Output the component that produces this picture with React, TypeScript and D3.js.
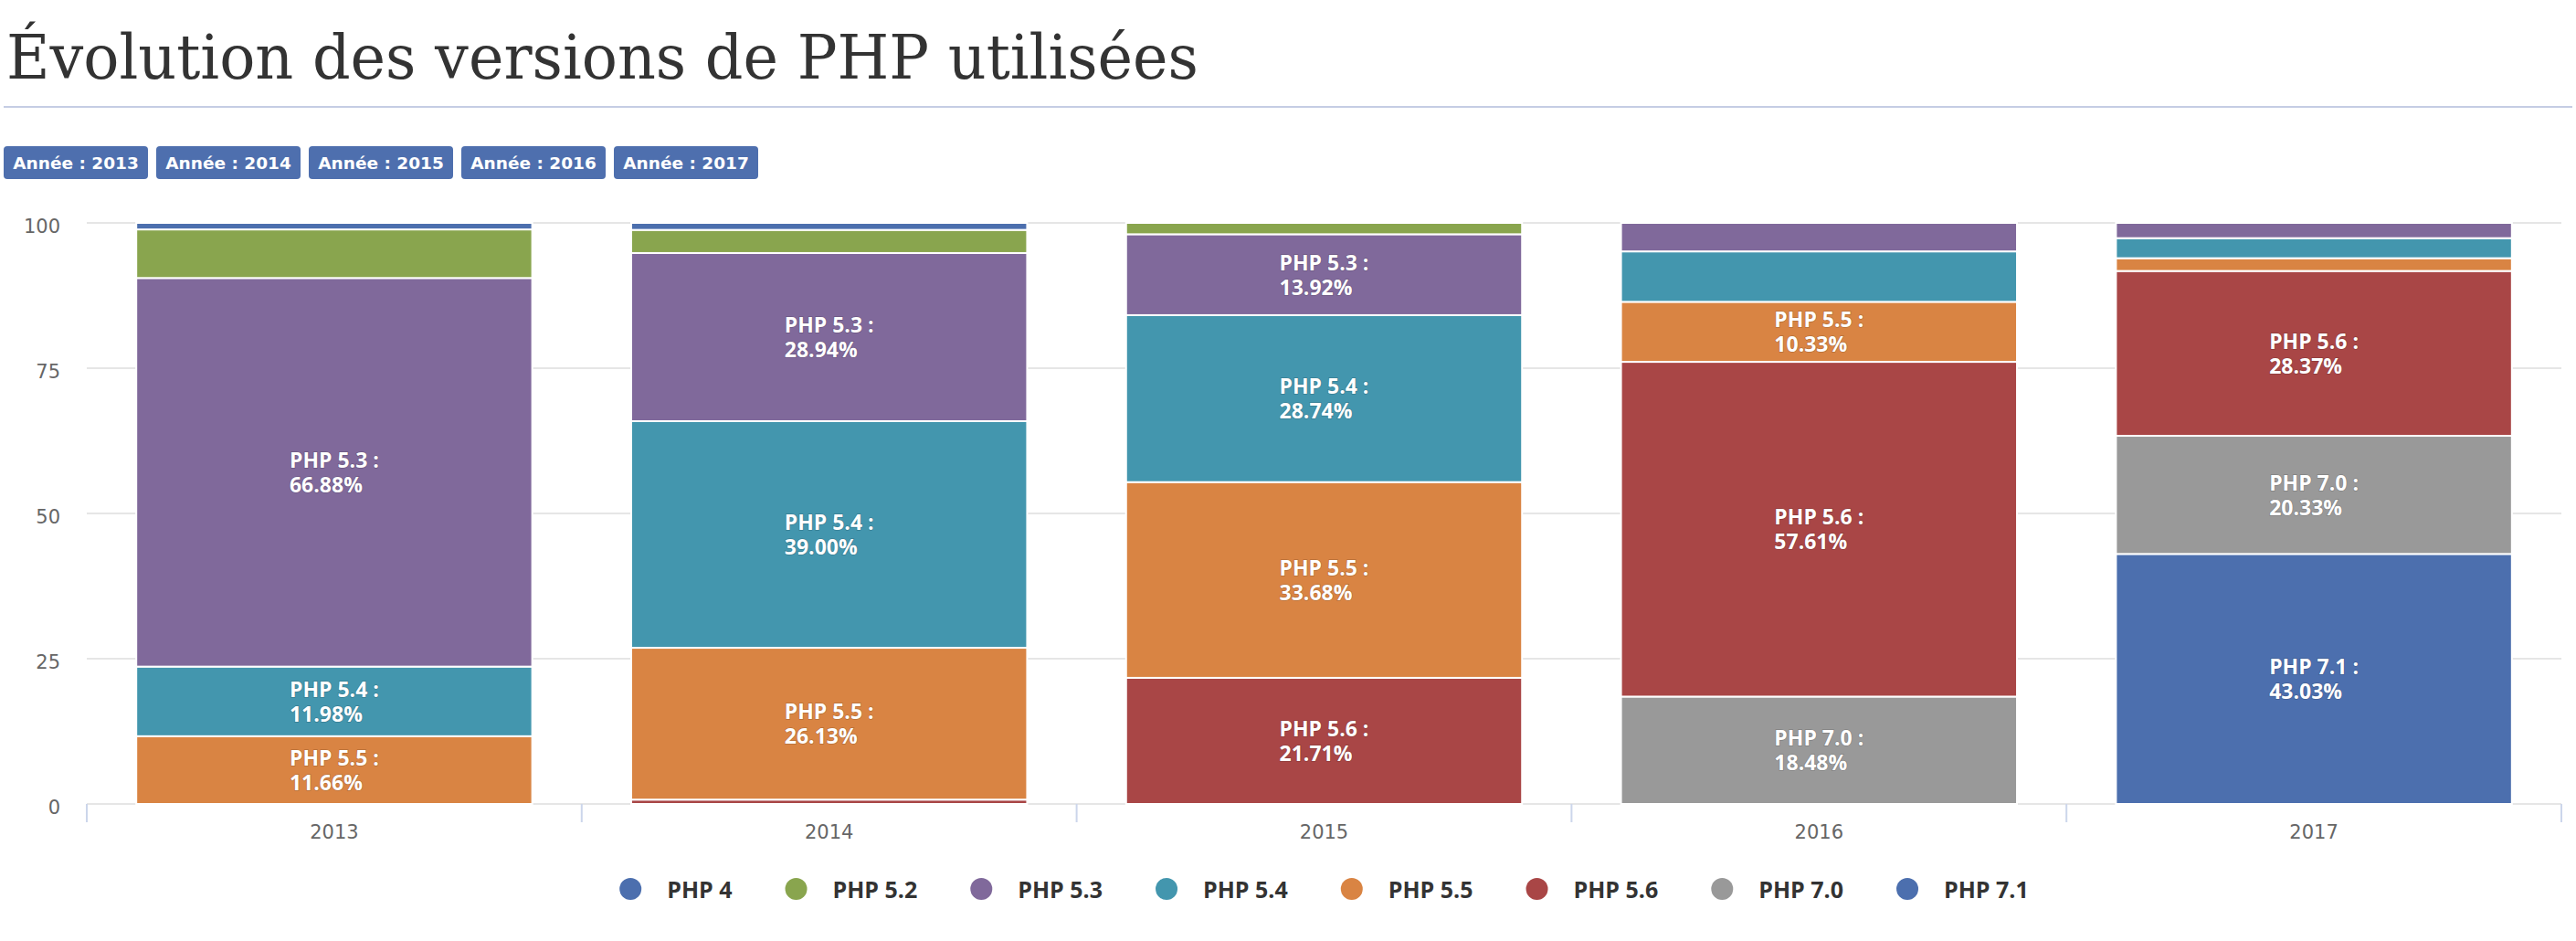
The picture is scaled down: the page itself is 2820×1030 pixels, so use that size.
import { useEffect, useRef } from 'react'
import * as d3 from 'd3'

// Years on the x axis
const years = ['2013', '2014', '2015', '2016', '2017']

// PHP versions, in stacking order (first one is drawn on top)
const versions = ['PHP 4', 'PHP 5.2', 'PHP 5.3', 'PHP 5.4', 'PHP 5.5', 'PHP 5.6', 'PHP 7.0', 'PHP 7.1']

// Share (%) of each version per year, one array per version
const php4 = [1.12, 1.2, 0, 0, 0]
const php52 = [8.36, 3.98, 1.95, 0, 0]
const php53 = [66.88, 28.94, 13.92, 4.9, 2.62]
const php54 = [11.98, 39.0, 28.74, 8.68, 3.45]
const php55 = [11.66, 26.13, 33.68, 10.33, 2.2]
const php56 = [0, 0.75, 21.71, 57.61, 28.37]
const php70 = [0, 0, 0, 18.48, 20.33]
const php71 = [0, 0, 0, 0, 43.03]

const seriesValues = [php4, php52, php53, php54, php55, php56, php70, php71]

const colors = ['#4c6fae', '#89a54e', '#80699b', '#4396ae', '#d98443', '#a94646', '#999999', '#4c6fae']

const yTicks = [0, 25, 50, 75, 100]

const WIDTH = 2820
const HEIGHT = 1030

export default function App() {
  const svgRef = useRef<SVGSVGElement>(null)

  useEffect(() => {
    document.body.style.margin = '0'
    if (!svgRef.current) return

    const svg = d3.select(svgRef.current)
    svg.selectAll('*').remove()

    const plotLeft = 95
    const plotRight = 2804
    const plotTop = 244
    const plotBottom = 880

    // Title + separator
    svg.append('text')
      .attr('x', 7)
      .attr('y', 86)
      .attr('fill', '#333')
      .attr('font-family', '"DejaVu Serif Condensed", "DejaVu Serif", serif')
      .attr('font-stretch', 'condensed')
      .attr('font-size', '68px')
      .attr('textLength', 1305)
      .attr('lengthAdjust', 'spacingAndGlyphs')
      .text('Évolution des versions de PHP utilisées')

    svg.append('rect')
      .attr('x', 4).attr('y', 116)
      .attr('width', 2812).attr('height', 2)
      .attr('fill', '#c5cde4')

    // Year buttons
    const buttons = svg.append('g')
    years.forEach((yr, i) => {
      const bx = 4 + i * 167
      buttons.append('rect')
        .attr('x', bx).attr('y', 160)
        .attr('width', 158).attr('height', 36)
        .attr('rx', 4)
        .attr('fill', '#4e6fae')
      buttons.append('text')
        .attr('x', bx + 79).attr('y', 184.5)
        .attr('text-anchor', 'middle')
        .attr('fill', '#fff')
        .attr('font-family', '"DejaVu Sans", sans-serif')
        .attr('font-weight', 'bold')
        .attr('font-size', '18.5px')
        .text(`Année : ${yr}`)
    })

    // Scales
    const x = d3.scaleBand<string>()
      .domain(years)
      .range([plotLeft, plotRight])
      .paddingInner(0.2)
      .paddingOuter(0.1)

    const y = d3.scaleLinear()
      .domain([0, 100])
      .range([plotBottom, plotTop])

    // Grid lines
    svg.append('g')
      .selectAll('line')
      .data(yTicks)
      .join('line')
      .attr('x1', plotLeft).attr('x2', plotRight)
      .attr('y1', d => y(d)).attr('y2', d => y(d))
      .attr('stroke', '#e6e6e6')
      .attr('stroke-width', 2)

    // Y axis labels
    svg.append('g')
      .selectAll('text')
      .data(yTicks)
      .join('text')
      .attr('x', 66)
      .attr('y', d => y(d) + 11)
      .attr('text-anchor', 'end')
      .attr('fill', '#666')
      .attr('font-family', '"DejaVu Sans", sans-serif')
      .attr('font-size', '21px')
      .text(d => d)

    // X axis: ticks on band boundaries
    const step = x.step()
    const boundaries = d3.range(years.length + 1).map(i => plotLeft + i * step)
    svg.append('g')
      .selectAll('line')
      .data(boundaries)
      .join('line')
      .attr('x1', d => d).attr('x2', d => d)
      .attr('y1', plotBottom).attr('y2', plotBottom + 20)
      .attr('stroke', '#ccd6eb')
      .attr('stroke-width', 2)

    svg.append('g')
      .selectAll('text')
      .data(years)
      .join('text')
      .attr('x', d => x(d)! + x.bandwidth() / 2)
      .attr('y', 918)
      .attr('text-anchor', 'middle')
      .attr('fill', '#666')
      .attr('font-family', '"DejaVu Sans", sans-serif')
      .attr('font-size', '21px')
      .text(d => d)

    // Stacked data
    const table = years.map((yr, i) => {
      const row: Record<string, number | string> = { year: yr }
      versions.forEach((v, s) => { row[v] = seriesValues[s][i] })
      return row
    })

    // d3.stack stacks from the bottom, so reverse the key order
    const stacked = d3.stack<Record<string, number | string>>()
      .keys([...versions].reverse())
      .value((d, key) => d[key] as number)(table)

    const bars = svg.append('g')
    stacked.forEach(layer => {
      const color = colors[versions.indexOf(layer.key)]
      bars.append('g')
        .selectAll('rect')
        .data(layer.filter(d => d[1] - d[0] > 0))
        .join('rect')
        .attr('x', d => x(d.data.year as string)!)
        .attr('width', x.bandwidth())
        .attr('y', d => y(d[1]))
        .attr('height', d => y(d[0]) - y(d[1]))
        .attr('fill', color)
        .attr('stroke', '#fff')
        .attr('stroke-width', 2)
    })

    // Data labels for the larger segments
    const labels = svg.append('g')
    stacked.forEach(layer => {
      layer.forEach(d => {
        const val = d[1] - d[0]
        if (val < 10) return
        const cx = x(d.data.year as string)! + x.bandwidth() / 2
        const mid = (y(d[0]) + y(d[1])) / 2
        const g = labels.append('g')
        const line1 = g.append('text')
          .attr('y', mid - 5)
          .text(`${layer.key} :`)
        const line2 = g.append('text')
          .attr('y', mid + 22)
          .text(`${val.toFixed(2)}%`)
        g.selectAll('text')
          .attr('fill', '#fff')
          .attr('font-family', '"Open Sans", sans-serif')
          .attr('font-weight', 'bold')
          .attr('font-size', '23px')
          .attr('stroke', 'rgba(0,0,0,0.18)')
          .attr('stroke-width', 1.5)
          .attr('paint-order', 'stroke')
        const w = Math.max(
          (line1.node() as SVGTextElement).getComputedTextLength(),
          (line2.node() as SVGTextElement).getComputedTextLength()
        )
        g.selectAll('text').attr('x', cx - w / 2)
      })
    })

    // Legend
    const legend = svg.append('g')
    let cursor = 0
    versions.forEach((v, i) => {
      const g = legend.append('g').attr('transform', `translate(${cursor},0)`)
      g.append('circle')
        .attr('cx', 0).attr('cy', 973)
        .attr('r', 12)
        .attr('fill', colors[i])
      const t = g.append('text')
        .attr('x', 40).attr('y', 983)
        .attr('fill', '#333')
        .attr('font-family', '"Open Sans", sans-serif')
        .attr('font-weight', 'bold')
        .attr('font-size', '25px')
        .text(v)
      const tw = (t.node() as SVGTextElement).getComputedTextLength()
      cursor += 40 + tw + 70
    })
    const totalWidth = cursor - 70 + 12
    const legendStart = (plotLeft + plotRight) / 2 - totalWidth / 2 + 12
    legend.attr('transform', `translate(${legendStart},0)`)
  }, [])

  return (
    <svg
      ref={svgRef}
      width={WIDTH}
      height={HEIGHT}
      style={{ display: 'block', background: '#fff' }}
    />
  )
}
